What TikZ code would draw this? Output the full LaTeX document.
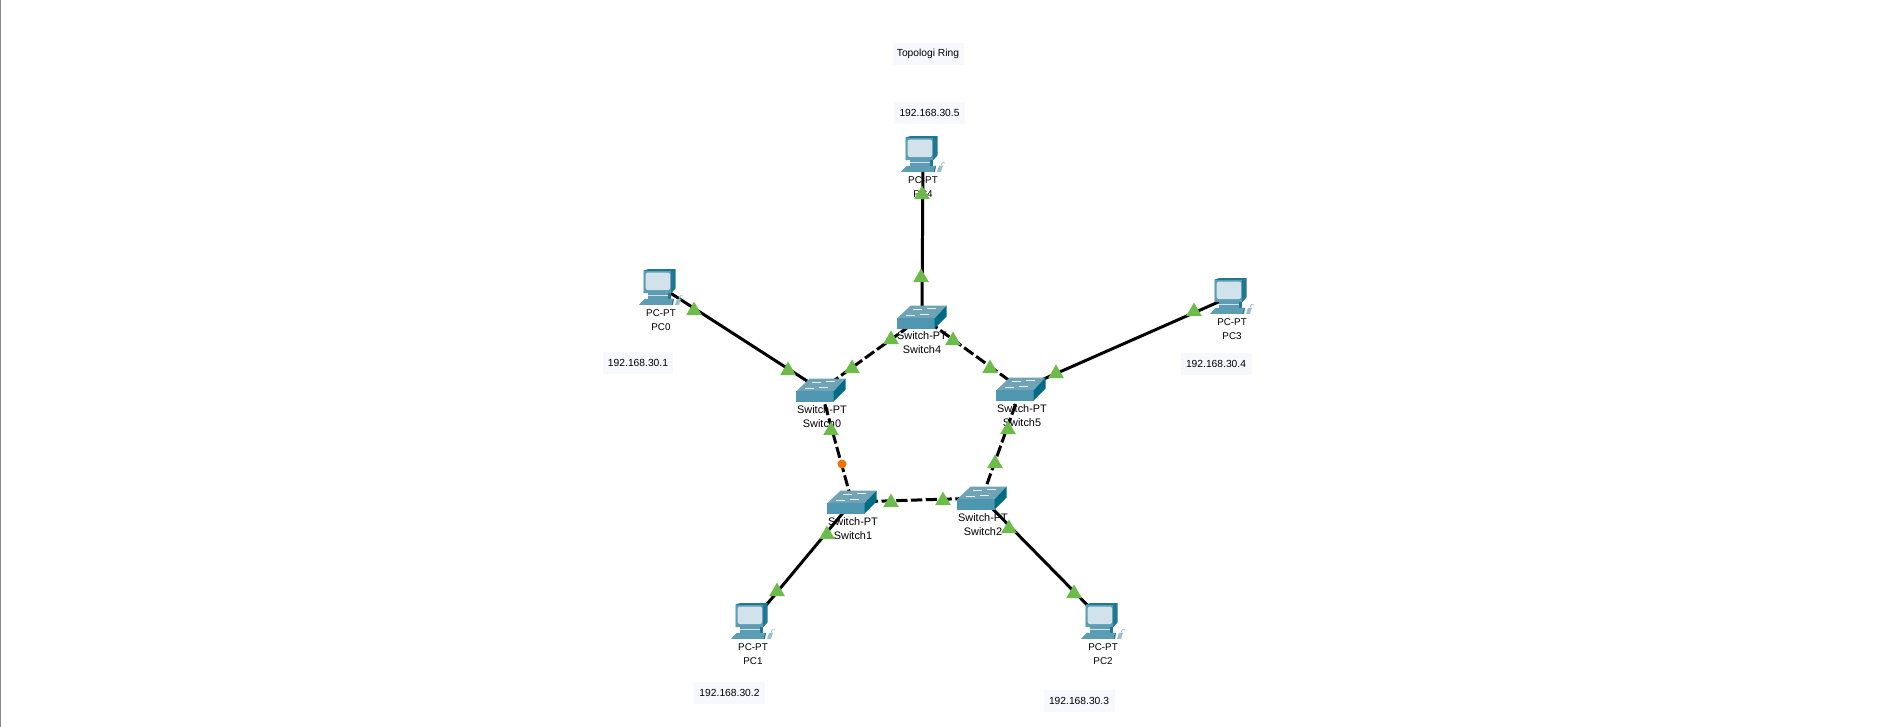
\documentclass[tikz,border=0pt]{standalone}
\usepackage{tikz}
\usepackage{xcolor}
\usepackage{fontspec}
\setmainfont{Liberation Sans}
\usetikzlibrary{shapes.geometric}

\definecolor{pcfront}{HTML}{5C9DB3}
\definecolor{pcside}{HTML}{1F7890}
\definecolor{pcscreen}{HTML}{D2E2EA}
\definecolor{swtop}{HTML}{6FA3B5}
\definecolor{swfront}{HTML}{4F97B0}
\definecolor{swside}{HTML}{006B85}
\definecolor{ipfill}{HTML}{F7F8FE}
\definecolor{linkgreen}{HTML}{6DBB4A}
\definecolor{linkorange}{HTML}{F07000}
\definecolor{edgegray}{HTML}{858A94}

\tikzset{
    hub/.style={inner sep=0pt,minimum size=0pt},
    uplink/.style={black,line width=1.7pt},
    ringlink/.style={black,line width=1.7pt,dash pattern=on 6.4pt off 2pt},
    pclabel/.style={font=\fontsize{5.6}{7.9}\selectfont,align=center,inner sep=0pt},
    swlabel/.style={font=\fontsize{6.2}{7.9}\selectfont,align=center,inner sep=0pt},
    ipbox/.style={fill=ipfill,minimum width=1.42cm,minimum height=0.44cm,inner sep=0pt,
        font=\fontsize{5.85}{7}\selectfont},
    linktri/.style={regular polygon,regular polygon sides=3,fill=linkgreen,inner sep=0pt,
        minimum size=0.36cm,yshift=-0.03cm},
    pcicon/.pic={
        \fill[pcside] (-17.3,-16.5) -- (-13,-17.8) -- (14.7,-17.8) -- (14.7,1.2) -- (10.3,6.2) -- (-17.3,6.2) -- cycle;
        \fill[pcfront] (-17.3,-16.5) rectangle (10.3,6.2);
        \fill[pcscreen,rounded corners=1.2] (-15.3,-14.5) rectangle (9,3);
        \fill[pcfront] (-13,6.2) rectangle (7,12);
        \fill[pcside] (7,6.2) -- (10,6.2) -- (10,12) -- (7,12) -- cycle;
        \fill[pcscreen] (-13,8.4) rectangle (7,9.4);
        \fill[pcfront] (-22,17.8) -- (-16.3,11.8) -- (12,11.8) -- (10.3,17.8) -- cycle;
        \fill[pcside] (10.3,17.8) -- (12,11.8) -- (13,11.8) -- (12,17.8) -- cycle;
        \fill[swtop!70] (14,17.8) -- (16,12) -- (20,11.5) -- (18,17.8) -- cycle;
        \draw[swtop!60,line width=0.5pt] (18,11.5) .. controls (19,8) and (21,8) .. (22,9);
    },
    swicon/.pic={
        \fill[swtop] (-24.7,1.2) -- (-11.3,-11.5) -- (24.7,-11.5) -- (12.7,1.2) -- cycle;
        \fill[swfront] (-24.7,1.2) rectangle (12.7,11.5);
        \fill[swside] (12.7,1.2) -- (24.7,-11.5) -- (24.7,-0.5) -- (12.7,11.5) -- cycle;
        \draw[white!85!swtop,line width=0.5pt] (-9,-8) -- (0,-8) (5,-8.6) -- (14,-8.6)
            (-16,-2) -- (-7,-2) (-2,-2.6) -- (7,-2.6);
    }
}

\begin{document}
\begin{tikzpicture}[x=0.02cm,y=-0.02cm]

\useasboundingbox (0,0) rectangle (1901,727);
\fill[edgegray] (0,0) rectangle (1.5,727);

\node[hub] (pc0) at (661,287) {};
\node[hub] (pc1) at (753,621) {};
\node[hub] (pc2) at (1103,621) {};
\node[hub] (pc3) at (1232,296) {};
\node[hub] (pc4) at (923,154) {};
\node[hub] (sw0) at (821,390) {};
\node[hub] (sw1) at (852,502) {};
\node[hub] (sw2) at (982,498) {};
\node[hub] (sw4) at (922,317) {};
\node[hub] (sw5) at (1021,389) {};

\draw[uplink] (pc0.center) -- (sw0.center);
\draw[uplink] (pc1.center) -- (sw1.center);
\draw[uplink] (pc2.center) -- (sw2.center);
\draw[uplink] (pc3.center) -- (sw5.center);
\draw[uplink] (pc4.center) -- (sw4.center);

\draw[ringlink] (sw4.center) -- (sw0.center);
\draw[ringlink] (sw0.center) -- (sw1.center);
\draw[ringlink] (sw1.center) -- (sw2.center);
\draw[ringlink] (sw2.center) -- (sw5.center);
\draw[ringlink] (sw5.center) -- (sw4.center);

\foreach \n in {pc0,pc1,pc2,pc3,pc4}
    \pic at (\n) {pcicon};
\foreach \n in {sw0,sw1,sw2,sw4,sw5}
    \pic at (\n) {swicon};

\node[pclabel] (pc0lab) at (661,320) {PC-PT\\PC0};
\node[pclabel] (pc1lab) at (753,654) {PC-PT\\PC1};
\node[pclabel] (pc2lab) at (1103,654) {PC-PT\\PC2};
\node[pclabel] (pc3lab) at (1232,329) {PC-PT\\PC3};
\node[pclabel] (pc4lab) at (923,187) {PC-PT\\PC4};
\node[swlabel] (sw0lab) at (822,417) {Switch-PT\\Switch0};
\node[swlabel] (sw1lab) at (853,529) {Switch-PT\\Switch1};
\node[swlabel] (sw2lab) at (983,525) {Switch-PT\\Switch2};
\node[swlabel] (sw4lab) at (922,343) {Switch-PT\\Switch4};
\node[swlabel] (sw5lab) at (1022,416) {Switch-PT\\Switch5};

\foreach \i/\x/\y in {1/694/309,2/788/369,3/852/367,4/891/338,5/953/339,6/921/276,7/922/193,
    8/990/367,9/1056/372,10/1194/310,11/831/429,12/1008/428,13/995/462,14/891/501,15/943/499,
    16/827/533,17/1009/527,18/777/590,19/1074/592}
    \node[linktri,name=tri\i] at (\x,\y) {};

\node[circle,fill=linkorange,inner sep=0pt,minimum size=0.18cm] (state) at (842,464) {};

\node[ipbox] (title) at (928,54) {Topologi Ring};
\node[ipbox] (ip0) at (638,363) {192.168.30.1};
\node[ipbox] (ip1) at (729.5,693) {192.168.30.2};
\node[ipbox] (ip2) at (1079,701) {192.168.30.3};
\node[ipbox] (ip3) at (1216,364) {192.168.30.4};
\node[ipbox] (ip4) at (929.5,113) {192.168.30.5};

\end{tikzpicture}
\end{document}
